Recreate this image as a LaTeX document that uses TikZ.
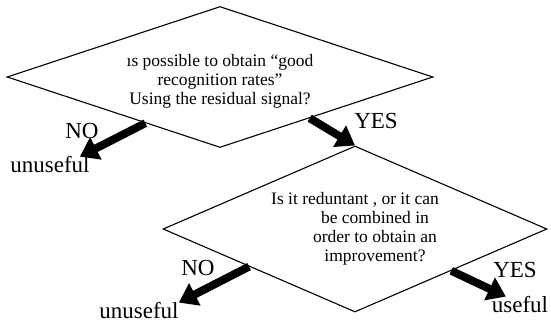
\documentclass[tikz,border=0pt]{standalone}
\usepackage{fontspec}
\setmainfont{Liberation Serif}
\usetikzlibrary{arrows.meta,positioning,shapes.geometric,calc}

\begin{document}
\begin{tikzpicture}[
    x=1pt, y=-1pt,
    question/.style={draw, diamond, line width=1.1pt, inner sep=0pt, align=center, font=\fontsize{17.5}{19}\selectfont},
    answer/.style={inner sep=0pt, font=\fontsize{23}{26}\selectfont},
    fat/.style={line width=8pt, -{Triangle[length=18pt, width=24pt]}}
  ]
  \useasboundingbox (0,0) rectangle (551,324);

  % Questions
  \node[question, aspect=3, minimum width=426pt, minimum height=141pt, text height=58pt] (q1) at (220,77)
    {ıs possible to obtain “good\\recognition rates”\\Using the residual signal?};
  \node[question, aspect=2.3, minimum width=384pt, minimum height=166pt] (q2) at (355,229)
    {Is it reduntant , or it can\\\hspace*{40pt}be combined in\\\hspace*{40pt}order to obtain an\\\hspace*{40pt}improvement?};

  % Answers
  \node[answer] (no1) at (82,131) {NO};
  \node[answer] (un1) at (50,165) {unuseful};
  \node[answer] (yes1) at (376,121) {YES};
  \node[answer] (no2) at (198,268) {NO};
  \node[answer] (un2) at (139,311) {unuseful};
  \node[answer] (yes2) at (515,270) {YES};
  \node[answer] (use2) at (520,305) {useful};

  % Arrows
  \draw[fat] ($(q1.west)!0.65!(q1.south)$) -- ($(un1.north)!0.75!(un1.north east)$);
  \draw[fat] ($(q1.south)!0.42!(q1.east)$) -- (q2.north);
  \draw[fat] ($(q2.west)!0.45!(q2.south)$) -- (un2.north east);
  \draw[fat] ($(q2.south)!0.5!(q2.east)$) -- ($(use2.north west)!0.25!(use2.north east)$);
\end{tikzpicture}
\end{document}
